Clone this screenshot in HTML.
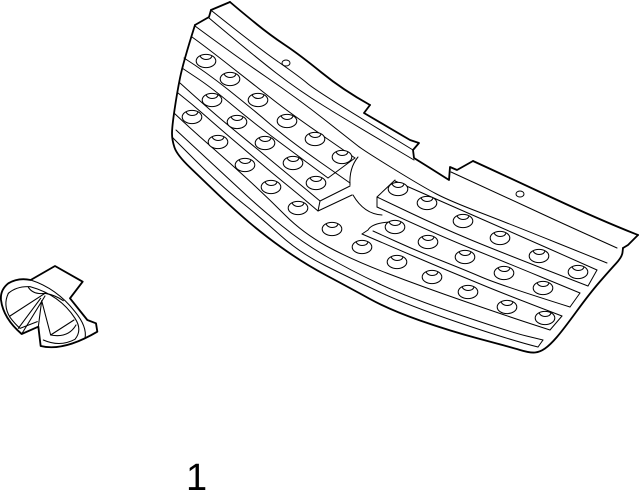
<!DOCTYPE html>
<html><head><meta charset="utf-8"><style>html,body{margin:0;padding:0;background:#fff}svg{display:block}</style></head><body>
<svg id="d" width="640" height="491" viewBox="0 0 640 491" xmlns="http://www.w3.org/2000/svg" fill="none" stroke="#000" stroke-linejoin="round" stroke-linecap="round">
<g stroke-width="1.8">
<polyline points="211,10 230,2"/>
<polyline points="211,10 209,17 195,25"/>
<polyline class="s" points="195,25 183,63 177,93 172,127 172,140 177,155 203,180 227,203 260,232 303,263 350,288 390,310 450,331 510,347 530,353 540,352 550,345 563,330 590,293 610,270 622,257 623,248"/>
<polyline points="623,248 628,245 638,235"/>
<polyline class="s" points="638,235 600,220 510,178 473,161"/>
<polyline points="473,161 457,170 450,167 449,180 430,168 414,158 413,150 419,143 410,140 364,113 370,105"/>
<polyline class="s" points="370,105 343,90 300,55 270,35 243,13 230,2"/>
</g>
<g stroke-width="1">
<polyline class="s" points="212,11 257,47 300,77 315,90 413,150"/>
<polyline class="s" points="209,18 253,55 298,90 350,122 414,160"/>
<polyline class="s" points="195,26 237,57 297,98 353,142 363,150 423,187 450,201 510,224 607,263"/>
<polyline class="s" points="451,172 510,199 555,220 617,248"/>
<polyline class="s" points="192,37 206,47 258,88 290,113 355,158"/>
<polyline points="355,158 328,178"/>
<polyline class="s" points="328,178 290,150 250,120 212,88 182,68"/>
<polyline class="s" points="184,58 206,72 250,107 290,141 350,183"/>
<polyline class="s" points="180,83 212,112 250,143 290,176 320,201"/>
<polyline points="320,201 350,186"/>
<polyline class="s" points="178,93 192,104 218,127 245,150 271,172 298,194 318,211"/>
<polyline points="318,211 352,195"/>
<line x1="320" y1="201" x2="318" y2="211"/>
<polyline class="s" points="174,113 192,130 230,163 267,197 303,233 350,259 423,287 510,317 550,330"/>
<polyline points="550,330 562,316"/>
<polyline class="s" points="562,316 507,295 468,279 432,264 397,249 362,234"/>
<polyline class="s" points="176,130 230,180 260,208 303,243 350,270 407,297 510,332 543,340"/>
<polyline points="543,340 538,347"/>
<polyline class="s" points="538,347 510,340 407,305 350,278 300,253 260,217 220,185 172,137"/>
<path d="M358 157Q349 168 350 185"/>
<path d="M353 195Q364 214 382 215"/>
<path d="M390 222Q372 223 368 230L362 234"/>
<polyline points="395,180 377,197 377,207"/>
<polyline class="s" points="377,207 440,236 500,260 580,293"/>
<polyline points="580,293 570,307"/>
<polyline class="s" points="570,307 500,285 465,270 417,251 373,231"/>
<polyline class="s" points="395,181 463,211 500,227 597,270"/>
<polyline points="597,270 588,286"/>
<polyline class="s" points="588,286 500,252 440,227 377,197"/>
<ellipse cx="286" cy="63" rx="4" ry="3"/><ellipse cx="520" cy="194" rx="4" ry="3"/>
</g>
<defs><g id="b"><ellipse rx="9.8" ry="6.6" fill="#fff"/><path d="M-6 -5Q-4 -1.5 0 -1.5Q5 -1.5 6 -5"/></g></defs>
<g stroke-width="1.05">
<use href="#b" x="206" y="61"/><use href="#b" x="230" y="79"/><use href="#b" x="258" y="100"/><use href="#b" x="287" y="121"/><use href="#b" x="315" y="139"/><use href="#b" x="342" y="157"/>
<use href="#b" x="212" y="100"/><use href="#b" x="237" y="122"/><use href="#b" x="265" y="143"/><use href="#b" x="293" y="163"/><use href="#b" x="316" y="183"/>
<use href="#b" x="192" y="117"/><use href="#b" x="218" y="142"/><use href="#b" x="245" y="165"/><use href="#b" x="271" y="187"/><use href="#b" x="298" y="208"/>
<use href="#b" x="398" y="189"/><use href="#b" x="427" y="203"/><use href="#b" x="463" y="221"/><use href="#b" x="500" y="238"/><use href="#b" x="539" y="256"/><use href="#b" x="578" y="272"/>
<use href="#b" x="395" y="227"/><use href="#b" x="428" y="242"/><use href="#b" x="465" y="257"/><use href="#b" x="504" y="273"/><use href="#b" x="543" y="288"/>
<use href="#b" x="332" y="229"/><use href="#b" x="362" y="247"/><use href="#b" x="397" y="262"/><use href="#b" x="432" y="277"/><use href="#b" x="468" y="292"/><use href="#b" x="507" y="307"/><use href="#b" x="545" y="318"/>
</g>
<g transform="translate(0,260) scale(.3333)">
<path stroke-width="5.5" d="M165 18L92 60Q55 52 25 70Q0 90 3 120Q10 175 65 222L115 200L122 258Q190 275 292 215L288 190L262 180L210 115L248 65Z"/>
<g stroke-width="3.2">
<path d="M92 60Q170 85 225 155Q262 200 255 235"/>
<path d="M25 100Q50 78 90 80Q180 105 225 175Q248 210 225 238Q180 262 130 240"/>
<path d="M25 100Q8 135 30 172Q45 192 60 205L112 185"/>
<path d="M30 168L135 100M55 205L122 115M65 222L135 108M115 200L125 122L152 225L222 180"/>
<path d="M85 82Q100 105 135 100Q165 105 190 122"/>
<path d="M152 225Q205 235 228 195"/>
</g>
</g>
<text x="186" y="490" font-family="'Liberation Sans',sans-serif" font-size="38" fill="#000" stroke="none">1</text>
</svg>
<script>
document.querySelectorAll('polyline.s').forEach(function(e){
var p=e.getAttribute('points').trim().split(/\s+/).map(function(a){return a.split(',').map(Number)});
var d='M'+p[0].join(' ');
for(var i=1;i<p.length-1;i++){var m=[(p[i][0]+p[i+1][0])/2,(p[i][1]+p[i+1][1])/2];d+='Q'+p[i].join(' ')+' '+m.join(' ');}
d+='L'+p[p.length-1].join(' ');
var n=document.createElementNS('http://www.w3.org/2000/svg','path');n.setAttribute('d',d);e.parentNode.replaceChild(n,e);
});
</script>
</body></html>
